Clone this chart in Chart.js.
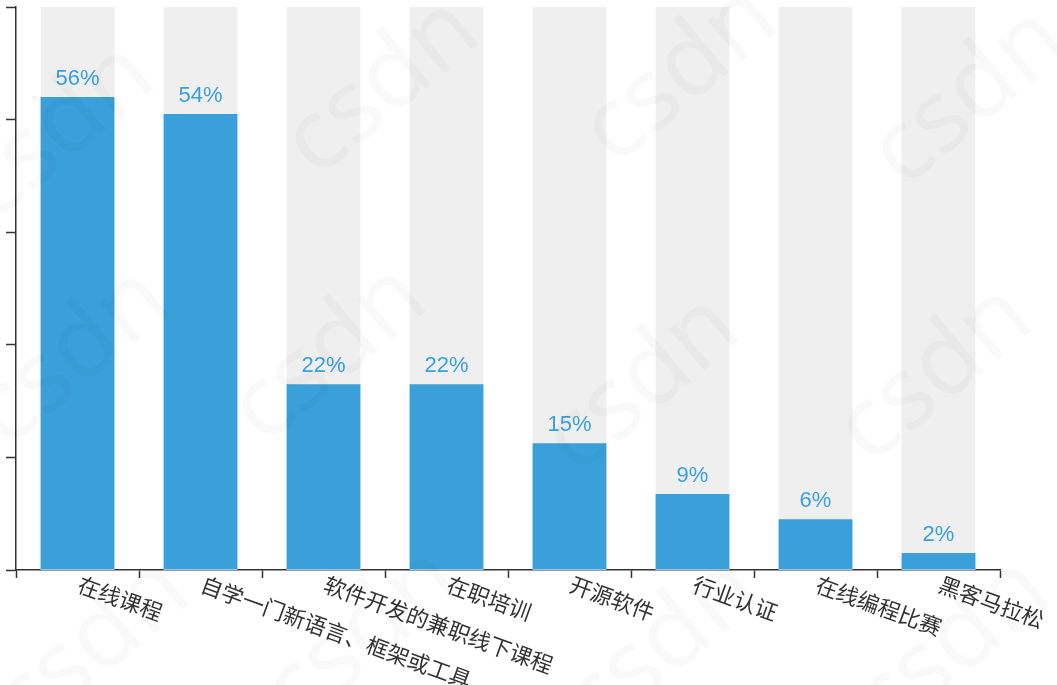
<!DOCTYPE html>
<html lang="zh">
<head>
<meta charset="utf-8">
<title>学习途径</title>
<script src="https://cdn.jsdelivr.net/npm/chart.js@4.4.0/dist/chart.umd.min.js"></script>
<style>
  html, body { margin: 0; padding: 0; background: #fff; }
  #wrap { width: 1057px; height: 685px; position: relative; }
</style>
</head>
<body>
<div id="wrap"><canvas id="learnChart"></canvas></div>
<script>
// categories and percentages
const categories = [
  "在线课程",
  "自学一门新语言、框架或工具",
  "软件开发的兼职线下课程",
  "在职培训",
  "开源软件",
  "行业认证",
  "在线编程比赛",
  "黑客马拉松",
];
const percents = [56, 54, 22, 22, 15, 9, 6, 2];
const yMax = 66.67;

const BLUE = "#39a0d9";
const TRACK = "#efefef";
const AXIS = "#333";

// gray full-height track behind each bar
const trackPlugin = {
  id: "tracks",
  beforeDatasetsDraw(chart) {
    const { ctx, chartArea } = chart;
    const meta = chart.getDatasetMeta(0);
    ctx.save();
    ctx.fillStyle = TRACK;
    meta.data.forEach((bar) => {
      ctx.fillRect(bar.x - bar.width / 2, chartArea.top, bar.width, chartArea.bottom - chartArea.top);
    });
    ctx.restore();
  },
};

// "56%" style labels above the bars
const valuePlugin = {
  id: "values",
  afterDatasetsDraw(chart) {
    const { ctx } = chart;
    const meta = chart.getDatasetMeta(0);
    const vals = chart.data.datasets[0].data;
    ctx.save();
    ctx.fillStyle = BLUE;
    ctx.font = '22px "Liberation Sans", Arial, sans-serif';
    ctx.textAlign = "center";
    ctx.textBaseline = "alphabetic";
    meta.data.forEach((bar, i) => {
      ctx.fillText(vals[i] + "%", bar.x, bar.y - 12);
    });
    ctx.restore();
  },
};

// slanted category names under the axis
const slantLabels = {
  id: "slantLabels",
  afterDraw(chart) {
    const { ctx } = chart;
    const xs = chart.scales.x;
    ctx.save();
    ctx.fillStyle = AXIS;
    ctx.font = '22px "Noto Sans CJK SC", sans-serif';
    ctx.textAlign = "left";
    ctx.textBaseline = "top";
    chart.data.labels.forEach((lab, i) => {
      ctx.save();
      ctx.translate(xs.getPixelForValue(i) + 5, xs.top + 3);
      ctx.rotate((20 * Math.PI) / 180);
      ctx.fillText(lab, 0, 0);
      ctx.restore();
    });
    ctx.restore();
  },
};

// faint site watermark
const watermark = {
  id: "watermark",
  afterDraw(chart) {
    const { ctx } = chart;
    const spots = [
      [-5, 185], [320, 140], [618, 128], [907, 150],
      [10, 410], [267, 407], [580, 437], [873, 427],
      [30, 700], [300, 690], [600, 700], [890, 700],
    ];
    ctx.save();
    ctx.fillStyle = "rgba(0,0,0,0.025)";
    ctx.font = '100px "Noto Sans", sans-serif';
    ctx.textBaseline = "middle";
    ctx.textAlign = "left";
    spots.forEach(([x, y]) => {
      ctx.save();
      ctx.translate(x, y);
      ctx.rotate((-40 * Math.PI) / 180);
      ctx.fillText("csdn", -28, 0);
      ctx.restore();
    });
    ctx.restore();
  },
};

new Chart(document.getElementById("learnChart"), {
  type: "bar",
  data: {
    labels: categories,
    datasets: [
      {
        data: percents,
        backgroundColor: BLUE,
        borderWidth: 0,
        barPercentage: 0.6,
        categoryPercentage: 1,
      },
    ],
  },
  options: {
    responsive: true,
    maintainAspectRatio: false,
    animation: false,
    layout: { padding: { top: 7, right: 57, left: 0, bottom: 0 } },
    plugins: {
      legend: { display: false },
      tooltip: { enabled: false },
    },
    scales: {
      x: {
        grid: {
          offset: true,
          drawOnChartArea: false,
          drawTicks: true,
          tickLength: 8,
          tickWidth: 1.5,
          tickColor: AXIS,
        },
        border: { color: AXIS, width: 1.5 },
        ticks: { display: false },
        afterFit(scale) {
          scale.height = 115;
        },
      },
      y: {
        min: 0,
        max: yMax,
        grid: {
          drawOnChartArea: false,
          drawTicks: true,
          tickLength: 10,
          tickWidth: 1.5,
          tickColor: AXIS,
        },
        border: { color: AXIS, width: 1.5 },
        ticks: { display: false, count: 6 },
        afterFit(scale) {
          scale.width = 16;
        },
      },
    },
  },
  plugins: [trackPlugin, valuePlugin, slantLabels, watermark],
});
</script>
</body>
</html>
